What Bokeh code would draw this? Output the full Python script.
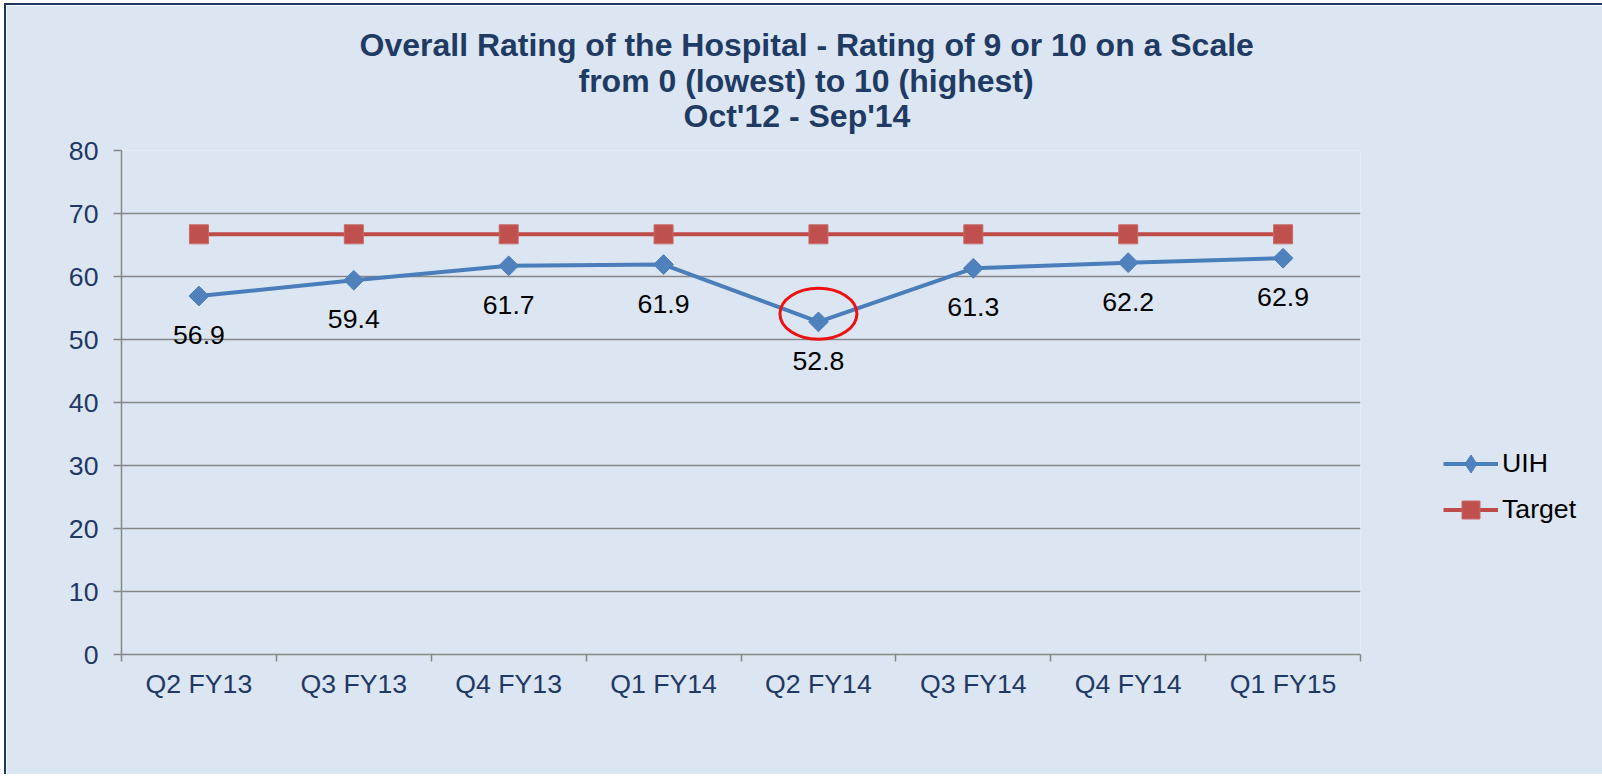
import numpy as np
from bokeh.plotting import figure
from bokeh.models import (ColumnDataSource, Range1d, FixedTicker, Legend, LegendItem, Title)
from bokeh.core.properties import value
from bokeh.embed import file_html
from bokeh.resources import INLINE

# ---- data ----
categories = ["Q2 FY13", "Q3 FY13", "Q4 FY13", "Q1 FY14", "Q2 FY14", "Q3 FY14", "Q4 FY14", "Q1 FY15"]
uih = [56.9, 59.4, 61.7, 61.9, 52.8, 61.3, 62.2, 62.9]
target = [66.7, 66.7, 66.7, 66.7, 66.7, 66.7, 66.7, 66.7]
y_ticks = [0, 10, 20, 30, 40, 50, 60, 70, 80]
title_lines = ["Overall Rating of the Hospital - Rating of 9 or 10 on a Scale",
               "from 0 (lowest) to 10 (highest)",
               "Oct'12 - Sep'14"]

BG = "#DCE6F2"
NAVY = "#1F3864"
GRID = "#868686"
FONT = "Liberation Sans"

xs = [i + 0.5 for i in range(len(categories))]
src = ColumnDataSource(dict(x=xs, uih=uih, target=target,
                            lbl=[f"{v:.1f}" for v in uih]))

p = figure(frame_width=1239, frame_height=504,
           min_border_left=115, min_border_right=238,
           min_border_top=145, min_border_bottom=120,
           x_range=Range1d(0, len(categories)), y_range=Range1d(y_ticks[0], y_ticks[-1]),
           output_backend="svg", toolbar_location=None, title=None,
           background_fill_color=BG, border_fill_color=BG)
p.styles = {"margin-left": "4px", "margin-top": "3px",
            "border-left": "2px solid #1F3763", "border-top": "2px solid #1F3763"}
p.outline_line_color = None

# grid
p.xgrid.grid_line_color = None
p.ygrid.grid_line_color = GRID
p.ygrid.grid_line_width = 1.5
p.ygrid.ticker = FixedTicker(ticks=y_ticks)

# y axis
p.yaxis.ticker = FixedTicker(ticks=y_ticks)
p.yaxis.axis_line_color = GRID
p.yaxis.axis_line_width = 1.5
p.yaxis.major_tick_line_color = GRID
p.yaxis.major_tick_line_width = 1.5
p.yaxis.major_tick_out = 8
p.yaxis.major_tick_in = 0
p.yaxis.minor_tick_line_color = None
p.yaxis.major_label_text_font = FONT
p.yaxis.major_label_text_font_size = "20pt"
p.yaxis.major_label_text_color = NAVY
p.yaxis.major_label_standoff = 15

# x axis (labels at category centres, ticks at boundaries)
p.xaxis.ticker = FixedTicker(ticks=xs, minor_ticks=list(range(len(categories) + 1)))
p.xaxis.major_label_overrides = {x: c for x, c in zip(xs, categories)}
p.xaxis.axis_line_color = GRID
p.xaxis.axis_line_width = 1.5
p.xaxis.major_tick_line_color = None
p.xaxis.major_tick_out = 0
p.xaxis.major_tick_in = 0
p.xaxis.minor_tick_line_color = GRID
p.xaxis.minor_tick_line_width = 1.5
p.xaxis.minor_tick_out = 7
p.xaxis.minor_tick_in = 0
p.xaxis.major_label_text_font = FONT
p.xaxis.major_label_text_font_size = "20pt"
p.xaxis.major_label_text_color = NAVY
p.xaxis.major_label_standoff = 7

# series
r_t_line = p.line("x", "target", source=src, line_color="#BE4B48", line_width=4)
r_t_mark = p.scatter("x", "target", source=src, marker="square", size=19,
                     fill_color="#C0504D", line_color="#C76A67", line_width=1)
r_u_line = p.line("x", "uih", source=src, line_color="#4A7EBB", line_width=4)
# diamond used for the legend symbol; hidden under the rotated squares below
r_u_leg = p.scatter("x", "uih", source=src, marker="diamond", size=12,
                    fill_color="#4F81BD", line_color="#4A7EBB", line_width=1)
r_u_mark = p.scatter("x", "uih", source=src, marker="square", angle=np.pi / 4, size=14,
                     fill_color="#4F81BD", line_color="#4A7EBB", line_width=1)

# data labels
p.text("x", "uih", text="lbl", source=src, y_offset=30,
       text_align="center", text_baseline="top",
       text_font=value(FONT), text_font_size="20pt", text_color="black")

# highlight ellipse around lowest value
idx = uih.index(min(uih))
p.ellipse(x=[xs[idx]], y=[uih[idx] + 1.3], width=77, height=51,
          width_units="screen", height_units="screen",
          fill_color=None, line_color="#EE1111", line_width=3)

# title: spacer closest to the frame, then lines 3, 2, 1
p.add_layout(Title(text=" ", text_font_size="1px", standoff=14), "above")
offsets = [238, 457, 562]
standoffs = [4, -7, 0]
for t, off, so in reversed(list(zip(title_lines, offsets, standoffs))):
    p.add_layout(Title(text=t, align="left", offset=off, standoff=so,
                       text_font=FONT, text_font_size="24pt", text_font_style="bold",
                       text_color="#1F3B63"), "above")

# legend
legend = Legend(items=[LegendItem(label="UIH", renderers=[r_u_line, r_u_leg]),
                       LegendItem(label="Target", renderers=[r_t_line, r_t_mark])],
                location=(83, 122), orientation="vertical",
                padding=0, margin=0, spacing=1,
                glyph_width=55, glyph_height=45, label_height=45,
                label_standoff=4,
                label_text_font=FONT, label_text_font_size="20pt",
                label_text_color="black",
                border_line_color=None, background_fill_alpha=0)
p.add_layout(legend, "right")

open("out.html", "w").write(file_html(p, INLINE))
